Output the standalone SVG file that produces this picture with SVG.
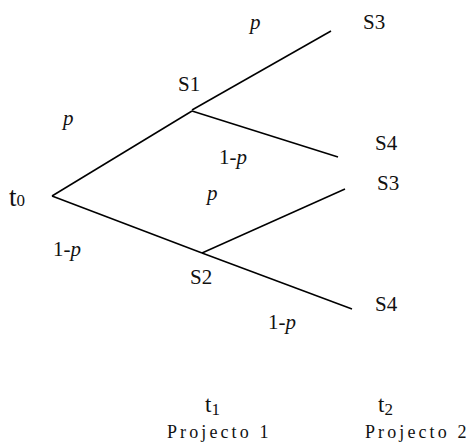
<svg xmlns="http://www.w3.org/2000/svg" width="472" height="446" viewBox="0 0 472 446">
<style>
text{font-family:"Liberation Serif","Times New Roman",serif;fill:#111;font-size:21px}
.i{font-style:italic}
.t0{font-size:27px}
.sm{font-size:17px}
.tt{font-size:23px}
.sub{font-size:17px}
.b{font-size:18px;letter-spacing:3.1px}
line{stroke:#000;stroke-width:1.5;fill:none}
</style>
<rect width="472" height="446" fill="#fff"/>
<g id="connectors">
<line x1="52" y1="196" x2="192" y2="111"/>
<line x1="52" y1="196" x2="202" y2="253"/>
<line x1="192" y1="110" x2="331" y2="31"/>
<line x1="192" y1="111" x2="338" y2="157"/>
<line x1="202" y1="253" x2="345" y2="189"/>
<line x1="202" y1="253" x2="352" y2="309"/>
</g>
<g id="t0"><text class="t0" x="9" y="206">t<tspan class="sm">0</tspan></text></g>
<g id="s1"><text x="178" y="91">S1</text></g>
<g id="s2"><text x="190" y="284">S2</text></g>
<g id="s3a"><text x="363" y="29">S3</text></g>
<g id="s4a"><text x="375" y="150">S4</text></g>
<g id="s3b"><text x="377" y="190">S3</text></g>
<g id="s4b"><text x="375" y="311">S4</text></g>
<g id="labels">
<text class="i" x="250" y="29">p</text>
<text class="i" x="63" y="125">p</text>
<text x="219" y="164">1-<tspan class="i">p</tspan></text>
<text class="i" x="207" y="200">p</text>
<text x="53" y="256">1-<tspan class="i">p</tspan></text>
<text x="268" y="329">1-<tspan class="i">p</tspan></text>
</g>
<g id="axis">
<text class="tt" x="205" y="412">t<tspan class="sub" dy="3">1</tspan></text>
<text class="tt" x="378" y="412">t<tspan class="sub" dy="3">2</tspan></text>
<text class="b" x="167" y="438">Projecto 1</text>
<text class="b" x="365" y="438">Projecto 2</text>
</g>
</svg>
